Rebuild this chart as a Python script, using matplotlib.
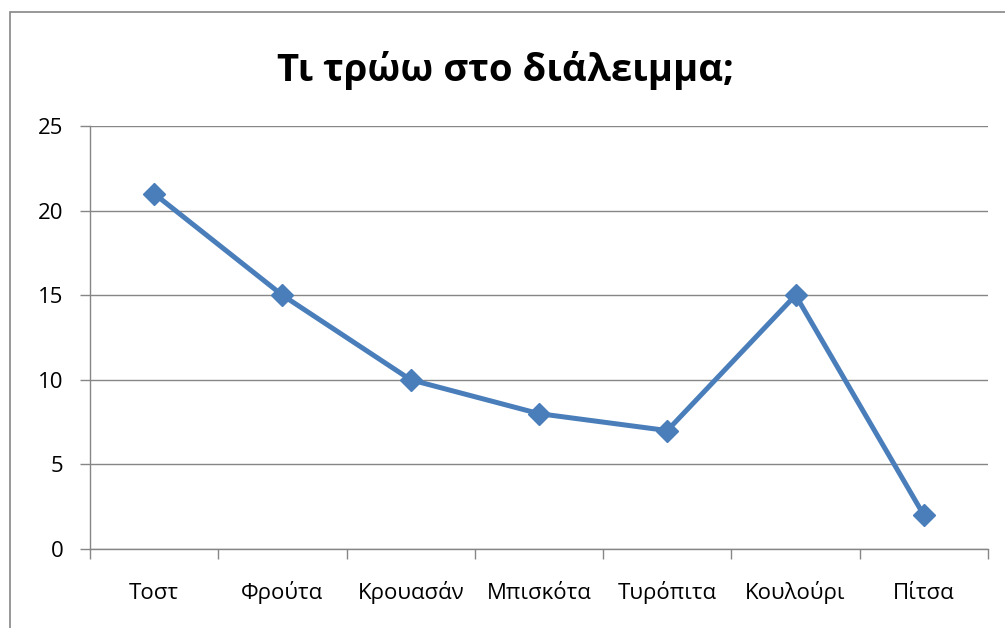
import matplotlib
matplotlib.use("Agg")
import matplotlib.pyplot as plt
from matplotlib.patches import Rectangle
import numpy as np

categories = ["Τοστ", "Φρούτα", "Κρουασάν", "Μπισκότα", "Τυρόπιτα", "Κουλούρι", "Πίτσα"]
values = [21, 15, 10, 8, 7, 15, 2]
yticks = [0, 5, 10, 15, 20, 25]
title = "Τι τρώω στο διάλειμμα;"

plt.rcParams['font.family'] = ['Open Sans', 'DejaVu Sans']

W, H = 1005, 628
fig = plt.figure(figsize=(W/100, H/100), dpi=100)
fig.patch.set_facecolor("white")

# outer chart border
fig.patches.append(Rectangle((10/W, -0.1), 1.2, 1.1 - 12/H, transform=fig.transFigure,
                             fill=False, edgecolor="#868686", linewidth=1.2))

left, right, top, bottom = 90, 988, 126, 549
ax = fig.add_axes([left/W, 1 - bottom/H, (right-left)/W, (bottom-top)/H])

x = np.arange(len(categories))
ax.plot(x, values, color="#4A7EBB", linewidth=3.6, marker="D", markersize=11.5,
        markerfacecolor="#4A7EBB", markeredgecolor="#4A7EBB", zorder=3)

ax.set_xlim(-0.5, len(categories) - 0.5)
ax.set_ylim(0, 25)
ax.set_yticks(yticks)
ax.set_yticklabels([str(v) for v in yticks], fontsize=16)
ax.set_xticks(x)
ax.set_xticklabels(categories, fontsize=16)
for lbl in ax.get_xticklabels():
    lbl.set_verticalalignment('baseline')
ax.tick_params(axis='x', length=0, pad=36)
ax.set_xticks(np.arange(-0.5, len(categories), 1), minor=True)
ax.tick_params(axis='x', which='minor', length=7, color="#868686", width=1, direction='out')
ax.tick_params(axis='y', length=7, color="#868686", width=1, pad=12)

ax.grid(axis='y', color="#868686", linewidth=1)
ax.set_axisbelow(True)
for s in ["top", "right"]:
    ax.spines[s].set_visible(False)
for s in ["left", "bottom"]:
    ax.spines[s].set_color("#868686")
    ax.spines[s].set_linewidth(1)

fig.text(505/W, 1 - 71/H, title, ha="center", va="center", fontsize=27.5, fontweight="bold")

fig.savefig("out.png", dpi=100, facecolor="white")
